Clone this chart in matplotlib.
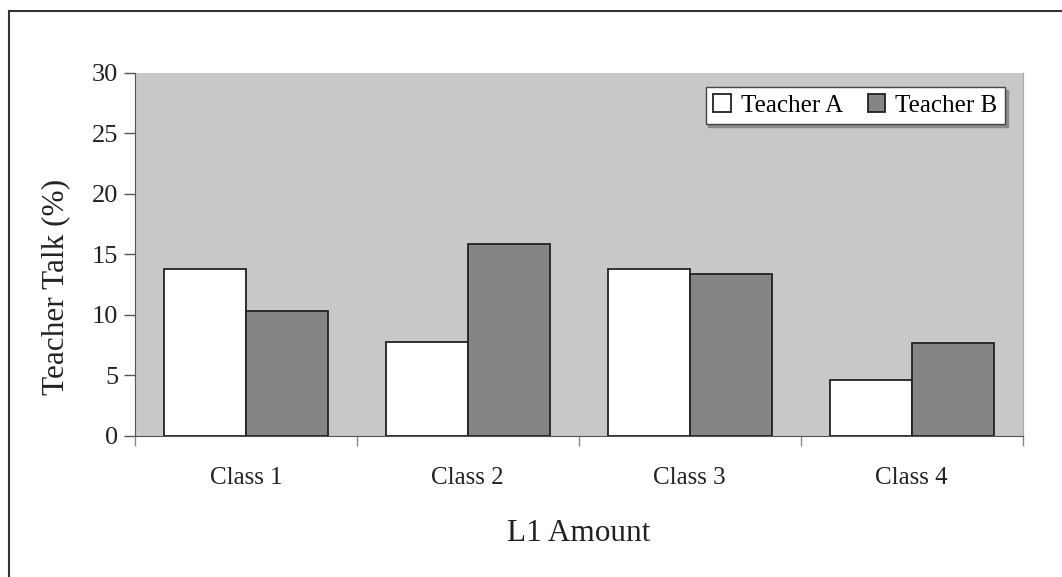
import matplotlib.pyplot as plt
import numpy as np
from matplotlib.lines import Line2D

plt.rcParams['font.family'] = ['Liberation Serif', 'DejaVu Serif']

classes = ['Class 1', 'Class 2', 'Class 3', 'Class 4']
teacher_a = [13.8, 7.8, 13.8, 4.6]
teacher_b = [10.3, 15.9, 13.4, 7.7]
y_ticks = [0, 5, 10, 15, 20, 25, 30]

fig = plt.figure(figsize=(10.62, 5.77), dpi=100)
ax = fig.add_axes([0.127, 0.2444, 0.836, 0.6291])
ax.set_facecolor('#c8c8c8')

x = np.arange(len(classes))
w = 0.37
ax.bar(x - w / 2, teacher_a, w, color='white', edgecolor='#222222', linewidth=1.3, label='Teacher A')
ax.bar(x + w / 2, teacher_b, w, color='#858585', edgecolor='#222222', linewidth=1.3, label='Teacher B')

ax.set_xlim(-0.5, len(classes) - 0.5)
ax.set_ylim(0, 30)
ax.set_yticks(y_ticks)
ax.tick_params(axis='y', labelsize=19, length=8, width=1, color='#555555', pad=4, labelcolor='#222222')
ax.set_xticks(x)
ax.set_xticklabels(classes, fontsize=18, color='#222222')
ax.tick_params(axis='x', length=0, pad=22)
ax.set_xticks(np.arange(len(classes) + 1) - 0.5, minor=True)
ax.tick_params(axis='x', which='minor', length=7, width=1, color='#888888', direction='out')

ax.spines['top'].set_visible(False)
ax.spines['right'].set_color('#aaaaaa')
ax.spines['left'].set_color('#555555')
ax.spines['bottom'].set_color('#555555')

ax.set_ylabel('Teacher Talk (%)', fontsize=22.5, color='#222222')
ax.yaxis.set_label_coords(-0.073, 0.41)
ax.set_xlabel('L1 Amount', fontsize=22.5, color='#222222', labelpad=22)

leg = ax.legend(loc='upper right', bbox_to_anchor=(0.98, 0.962), borderaxespad=0,
                fontsize=18, frameon=True, fancybox=False,
                shadow={'color': '#8a8a8a', 'alpha': 1}, edgecolor='#444444',
                facecolor='white', framealpha=1,
                handlelength=0.7, handleheight=0.7,
                handletextpad=0.4, columnspacing=1.0, ncol=2, borderpad=0.3)
leg.get_frame().set_linewidth(1)

# outer border of the figure
fig.add_artist(Line2D([0.0085, 0.0085], [0.0, 0.981], color='#333333', linewidth=1.5))
fig.add_artist(Line2D([0.0085, 1.0], [0.981, 0.981], color='#333333', linewidth=1.5))

plt.savefig('out.png', dpi=100)
